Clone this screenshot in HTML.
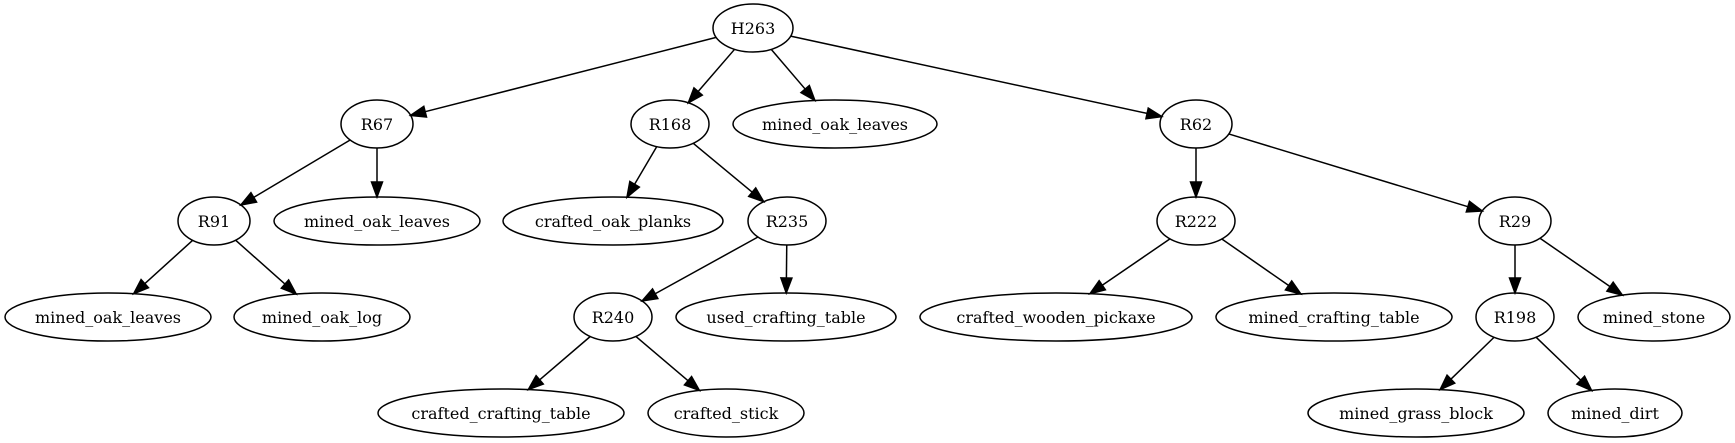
<!DOCTYPE html>
<html><head><meta charset="utf-8"><style>
html,body{margin:0;padding:0;background:#fff;}
svg{display:block}
text{font-family:"DejaVu Serif","Liberation Serif",serif;font-size:16px;fill:#000}
</style></head><body>
<svg id="s" width="1735" height="443" viewBox="0 0 1735 443" xmlns="http://www.w3.org/2000/svg">
<g id="e"></g>
<g id="n" fill="none" stroke="#000" stroke-width="1.5"></g>
<g id="t" text-anchor="middle"></g>
</svg>
<script>
var N={
H263:[753,28,40,"H263"],
R67:[377,124,36,"R67"],
R168:[670,124,39,"R168"],
MOL1:[835,124,102,"mined_oak_leaves"],
R62:[1196,124,36,"R62"],
R91:[214,221,36,"R91"],
MOL2:[377,221,103,"mined_oak_leaves"],
COP:[613,221,110,"crafted_oak_planks"],
R235:[787,221,39,"R235"],
R222:[1196,221,39,"R222"],
R29:[1515,221,36,"R29"],
MOL3:[108,317,103,"mined_oak_leaves"],
MLOG:[322,317,88,"mined_oak_log"],
R240:[613,317,39,"R240"],
UCT:[786,317,110,"used_crafting_table"],
CWP:[1056,317,136,"crafted_wooden_pickaxe"],
MCT:[1334,317,118,"mined_crafting_table"],
R198:[1515,317,39,"R198"],
MST:[1654,317,76,"mined_stone"],
CCT:[501,413,123,"crafted_crafting_table"],
CST:[726,413,78,"crafted_stick"],
MGB:[1416,413,108,"mined_grass_block"],
MD:[1615,413,67,"mined_dirt"]
};
var RY=24;
var E=[["H263","R67"],["H263","R168"],["H263","MOL1"],["H263","R62"],
["R67","R91"],["R67","MOL2"],["R91","MOL3"],["R91","MLOG"],
["R168","COP"],["R168","R235"],["R235","R240"],["R235","UCT"],
["R240","CCT"],["R240","CST"],["R62","R222"],["R62","R29"],
["R222","CWP"],["R222","MCT"],["R29","R198"],["R29","MST"],
["R198","MGB"],["R198","MD"]];
var ns="http://www.w3.org/2000/svg";
function el(p,tag,a,txt){var x=document.createElementNS(ns,tag);for(var k in a)x.setAttribute(k,a[k]);if(txt)x.textContent=txt;p.appendChild(x);return x;}
function bnd(n,dx,dy){var rx=n[2];var t=1/Math.sqrt(dx*dx/(rx*rx)+dy*dy/(RY*RY));return [n[0]+dx*t,n[1]+dy*t];}
var g=document.getElementById("n"),gt=document.getElementById("t"),ge=document.getElementById("e");
for(var k in N){var n=N[k];el(g,"ellipse",{cx:n[0],cy:n[1],rx:n[2],ry:RY});el(gt,"text",{x:n[0],y:n[1]+6},n[3]);}
E.forEach(function(p){var a=N[p[0]],b=N[p[1]];
var dx=b[0]-a[0],dy=b[1]-a[1];
var s=bnd(a,dx,dy),e=bnd(b,-dx,-dy);
var L=Math.hypot(e[0]-s[0],e[1]-s[1]);var ux=(e[0]-s[0])/L,uy=(e[1]-s[1])/L;
var al=15,aw=5.5;var bx=e[0]-ux*al,by=e[1]-uy*al;
el(ge,"line",{x1:s[0],y1:s[1],x2:bx,y2:by,stroke:"#000","stroke-width":1.5});
el(ge,"polygon",{points:e[0]+","+e[1]+" "+(bx-uy*aw)+","+(by+ux*aw)+" "+(bx+uy*aw)+","+(by-ux*aw),fill:"#000",stroke:"#000","stroke-width":1.5});
});
</script>
</body></html>
